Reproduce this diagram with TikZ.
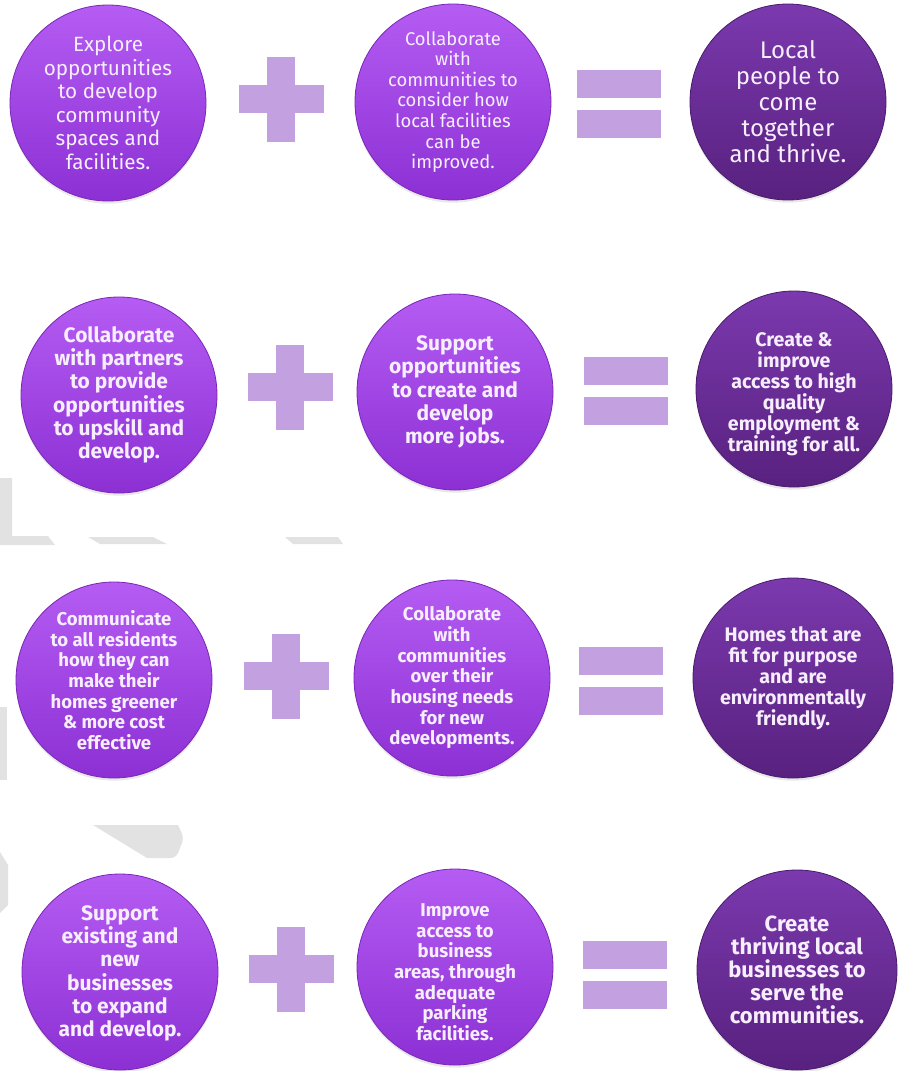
\documentclass[tikz,border=0pt]{standalone}
\usepackage{fontspec}
\setmainfont{Fira Sans}
\usepackage{xcolor}
\usetikzlibrary{shadows}
\definecolor{discTop}{HTML}{B55CF3}
\definecolor{discBot}{HTML}{8C30D4}
\definecolor{discRim}{HTML}{7A26B8}
\definecolor{darkTop}{HTML}{7B39AE}
\definecolor{darkBot}{HTML}{58217F}
\definecolor{darkRim}{HTML}{4A1B6C}
\definecolor{signcol}{HTML}{C3A1E0}
\definecolor{lbltext}{HTML}{F6EEFC}
\definecolor{wmgrey}{HTML}{E2E2E2}

\begin{document}
\begin{tikzpicture}[x=0.75pt, y=-0.75pt,
    disc/.style={circle, minimum size=147pt, inner sep=0pt, top color=discTop, bottom color=discBot, draw=discRim, line width=0.6pt,
      drop shadow={opacity=0.18, shadow xshift=0pt, shadow yshift=-2pt}},
    darkdisc/.style={disc, top color=darkTop, bottom color=darkBot, draw=darkRim},
    lbl/.style={text=lbltext, align=center, inner sep=0pt},
    big/.style={font=\fontsize{15.5}{17.6}\selectfont},
    small/.style={font=\fontsize{13.8}{15.4}\selectfont},
    huge/.style={font=\fontsize{18}{19.5}\selectfont},
    bigb/.style={font=\fontsize{15.7}{17.5}\selectfont\bfseries},
    tallb/.style={font=\fontsize{16.5}{17.3}\selectfont\bfseries},
    midb/.style={font=\fontsize{14.7}{15.7}\selectfont\bfseries},
    smallb/.style={font=\fontsize{13.9}{15.5}\selectfont\bfseries},
    plussign/.pic={\fill[signcol] (-42.5,-14) rectangle (42.5,14); \fill[signcol] (-14,-42.5) rectangle (14,42.5);},
    eqsign/.pic={\fill[signcol] (-42,-34) rectangle (42,-6); \fill[signcol] (-42,6) rectangle (42,34);}]
  \useasboundingbox (0,0) rectangle (902,1071);

  % faint grey marks behind the rows
  \fill[wmgrey] (0,478) -- (12,478) -- (12,536) -- (48,536) -- (55,545) -- (0,545) -- cycle;
  \fill[wmgrey] (88,537) -- (153,537) -- (167,544) -- (100,544) -- cycle;
  \fill[wmgrey] (285,537) -- (338,537) -- (343,544) -- (293,544) -- cycle;
  \fill[wmgrey] (0,707) rectangle (7,780);
  \fill[wmgrey] (93,825) -- (178,825) [rounded corners=4pt] -- (184,838) -- (176,858) [sharp corners] -- (147,858) -- cycle;
  \fill[wmgrey] (0,852) -- (8,865) -- (8,905) -- (0,913) -- cycle;

  % row 1
  \node[disc] (a1) at (108,103) {};
  \node[disc] (b1) at (453,102) {};
  \node[darkdisc] (c1) at (788,102) {};
  \pic (plus1) at (281,99) {plussign};
  \pic (eq1) at (619,104) {eqsign};
  \node[lbl, big] (ta1) at (a1) {Explore\\opportunities\\to develop\\community\\spaces and\\facilities.};
  \node[lbl, small] (tb1) at (b1) {Collaborate\\with\\communities to\\consider how\\local facilities\\can be\\improved.};
  \node[lbl, huge] (tc1) at (c1) {Local\\people to\\come\\together\\and thrive.};

  % row 2
  \node[disc] (a2) at (119,395) {};
  \node[disc] (b2) at (455,392) {};
  \node[darkdisc] (c2) at (794,389) {};
  \pic (plus2) at (290,387) {plussign};
  \pic (eq2) at (626,391) {eqsign};
  \node[lbl, bigb] (ta2) at (a2) {Collaborate\\with partners\\to provide\\opportunities\\to upskill and\\develop.};
  \node[lbl, bigb] (tb2) at (b2) {Support\\opportunities\\to create and\\develop\\more jobs.};
  \node[lbl, midb] (tc2) at ([yshift=-4pt]c2) {Create \&\\improve\\access to high\\quality\\employment \&\\training for all.};

  % row 3
  \node[disc] (a3) at (114,680) {};
  \node[disc] (b3) at (452,678) {};
  \node[darkdisc, minimum size=150pt] (c3) at (793,678) {};
  \pic (plus3) at (286,676) {plussign};
  \pic (eq3) at (621,681) {eqsign};
  \node[lbl, smallb] (ta3) at (a3) {Communicate\\to all residents\\how they can\\make their\\homes greener\\\& more cost\\effective};
  \node[lbl, smallb] (tb3) at (b3) {Collaborate\\with\\communities\\over their\\housing needs\\for new\\developments.};
  \node[lbl, midb] (tc3) at (c3) {Homes that are\\fit for purpose\\and  are\\environmentally\\friendly.};

  % row 4
  \node[disc] (a4) at (120,972) {};
  \node[disc] (b4) at (455,967) {};
  \node[darkdisc, minimum size=150pt] (c4) at (797,970) {};
  \pic (plus4) at (291,969) {plussign};
  \pic (eq4) at (625,975) {eqsign};
  \node[lbl, bigb] (ta4) at ([yshift=-1pt]a4) {Support\\existing and\\new\\businesses\\to expand\\and develop.};
  \node[lbl, smallb] (tb4) at ([yshift=-4pt]b4) {Improve\\access to\\business\\areas, through\\adequate\\parking\\facilities.};
  \node[lbl, tallb] (tc4) at (c4) {Create\\thriving local\\businesses to\\serve the\\communities.};
\end{tikzpicture}
\end{document}
